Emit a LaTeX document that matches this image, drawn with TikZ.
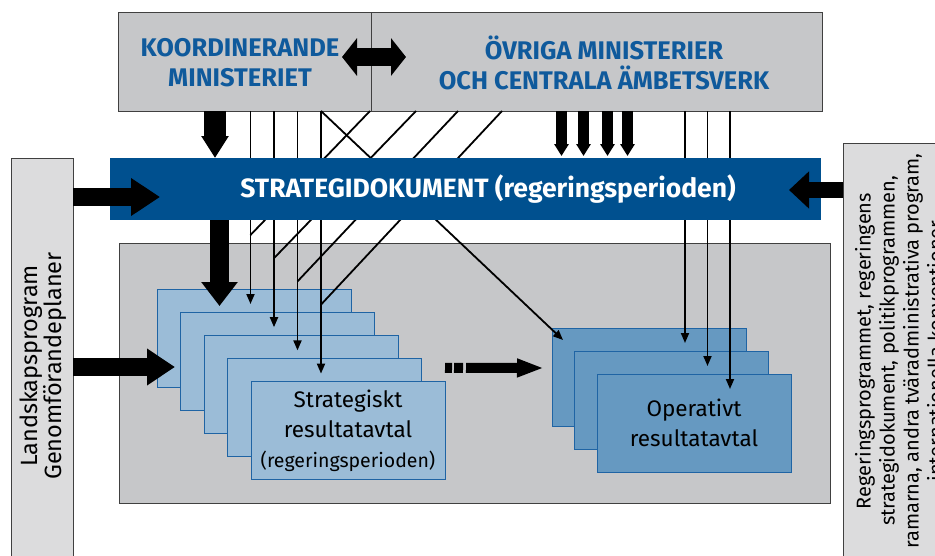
\documentclass[tikz,border=0pt]{standalone}
\usepackage{fontspec}
\setmainfont{Fira Sans}
\usetikzlibrary{arrows.meta}

\definecolor{ministerblue}{HTML}{0F5A9C}
\definecolor{barblue}{HTML}{00508F}
\definecolor{strategfill}{HTML}{9BBCD7}
\definecolor{operfill}{HTML}{6699C1}
\definecolor{rectline}{HTML}{1F64A4}
\definecolor{boxgray}{HTML}{C6C7C9}
\definecolor{sidegray}{HTML}{DCDCDD}

\tikzset{
  graybox/.style={draw=black!75, line width=0.8pt, fill=boxgray, inner sep=0pt, outer sep=0pt, anchor=north west},
  sidebox/.style={graybox, fill=sidegray},
  stratbox/.style={draw=rectline, line width=1pt, fill=strategfill, minimum width=194pt, minimum height=98pt, inner sep=0pt, outer sep=0pt, anchor=north west},
  operbox/.style={stratbox, fill=operfill},
  headline/.style={font=\fontsize{25.5}{30}\selectfont\bfseries, text=ministerblue, align=center},
  thinline/.style={line width=1.8pt},
  thinarrow/.style={thinline, -{Triangle[length=10pt,width=8pt]}},
  fat/.style n args={3}{line width=#1, -{Triangle[width=#2,length=#3]}}
}

\begin{document}
\begin{tikzpicture}[x=1pt,y=-1pt]
  \useasboundingbox (0,0) rectangle (935,555);

  % ministries
  \node[graybox, minimum width=253pt, minimum height=99pt] (koord) at (118,12) {};
  \node[graybox, minimum width=451pt, minimum height=99pt] (ovriga) at (371,12) {};
  \node[headline] (koordtext) at (240,63) {KOORDINERANDE\\MINISTERIET};
  \node[headline] (ovrigatext) at (604,63) {ÖVRIGA MINISTERIER\\OCH CENTRALA ÄMBETSVERK};

  % frame and side boxes
  \node[graybox, minimum width=711pt, minimum height=260pt] (ram) at (119,243) {};
  \node[sidebox, minimum width=62pt, minimum height=410pt] (landskap) at (11,158) {};
  \node[sidebox, minimum width=110pt, minimum height=420pt] (regering) at (843,143) {};
  \node[rotate=90, align=center, font=\fontsize{23.5}{23}\selectfont] (landskaptext) at (43,366)
    {Landskapsprogram\\Genomförandeplaner};
  \node[rotate=90, align=center, font=\fontsize{20}{24}\selectfont] (regeringtext) at (899,351)
    {Regeringsprogrammet, regeringens\\strategidokument, politikprogrammen,\\ramarna, andra tväradministrativa program,\\internationella konventioner};

  % result agreements
  \foreach \i in {0,...,3}
    \node[stratbox] (s\i) at ({157+23.5*\i},{289+23.2*\i}) {};
  \node[stratbox, align=center, font=\fontsize{22.5}{30}\selectfont] (s4) at ({157+23.5*4},{289+23.2*4})
    {Strategiskt\\resultatavtal\\{\fontsize{19.5}{30}\selectfont(regeringsperioden)}};
  \foreach \i in {0,1}
    \node[operbox] (o\i) at ({552+22.5*\i},{328+23*\i}) {};
  \node[operbox, align=center, font=\fontsize{22.5}{30}\selectfont] (o2) at (597,374)
    {Operativt\\resultatavtal};

  % thin connectors
  \foreach \i in {0,...,3} {
    \coordinate (t\i) at ([shift={(93.5,15)}]s\i.north west);
    \draw[thinarrow] (t\i |- koord.south) -- (t\i);
  }
  \foreach \i/\dx in {0/-1,1/45,2/87,3/131} {
    \coordinate (j\i) at ([shift={(0,-69)}]t\i);
    \coordinate (d\i) at ([xshift=\dx pt]ovriga.south west);
    \draw[thinline] (d\i) -- (j\i);
  }
  \coordinate (opin) at ([shift={(11,12)}]o0.north west);
  \draw[thinarrow] (t3 |- koord.south) -- (opin);
  \foreach \i in {0,1,2} {
    \coordinate (u\i) at ([shift={(133,15)}]o\i.north west);
    \draw[thinarrow] (u\i |- ovriga.south) -- (u\i);
  }

  % strategy document
  \node[fill=barblue, minimum width=711pt, minimum height=62pt, inner sep=0pt, outer sep=0pt, anchor=north west] (strat) at (110,158) {};
  \node[text=white, font=\fontsize{26.5}{28}\selectfont\bfseries] (strattext) at (488,189)
    {STRATEGIDOKUMENT (regeringsperioden)};

  % block arrows
  \coordinate (ka) at ([xshift=97pt]koord.south west);
  \draw[fat={22pt}{26pt}{22pt}] (ka) -- (ka |- strat.north);
  \foreach \x in {190.5,212.5,236.5,256.5} {
    \coordinate (oa) at ([xshift=\x pt]ovriga.south west);
    \draw[fat={11pt}{14pt}{12pt}, shorten >=2pt] (oa) -- (oa |- strat.north);
  }
  \coordinate (sa) at ([shift={(62.5,17)}]s0.north west);
  \draw[fat={19pt}{35pt}{24pt}] (sa |- strat.south) -- (sa);
  \coordinate (la) at ([shift={(50,39)}]strat.north west);
  \draw[fat={18pt}{36pt}{29pt}] (landskap.east |- la) -- (la);
  \coordinate (lb) at ([shift={(18,78)}]s0.north west);
  \draw[fat={18pt}{35pt}{28pt}] (landskap.east |- lb) -- (lb);
  \coordinate (ra) at ([shift={(-32,32)}]strat.north east);
  \draw[fat={16pt}{36pt}{20pt}] (regering.west |- ra) -- (ra);
  \coordinate (ma) at ([shift={(-29,45)}]ovriga.north west);
  \coordinate (mb) at ([shift={(35,45)}]ovriga.north west);
  \draw[line width=18pt, {Triangle[width=37pt,length=15pt]}-{Triangle[width=37pt,length=15pt]}] (ma) -- (mb);
  \coordinate (da) at ([shift={(0,-14)}]s4.north east);
  \coordinate (db) at ([shift={(-8,40)}]o0.north west);
  \draw[line width=10pt, dash pattern=on 7pt off 2pt on 9pt off 3pt on 200pt off 0pt, -{Triangle[width=17pt,length=27pt]}] (da) -- (db);
\end{tikzpicture}
\end{document}
